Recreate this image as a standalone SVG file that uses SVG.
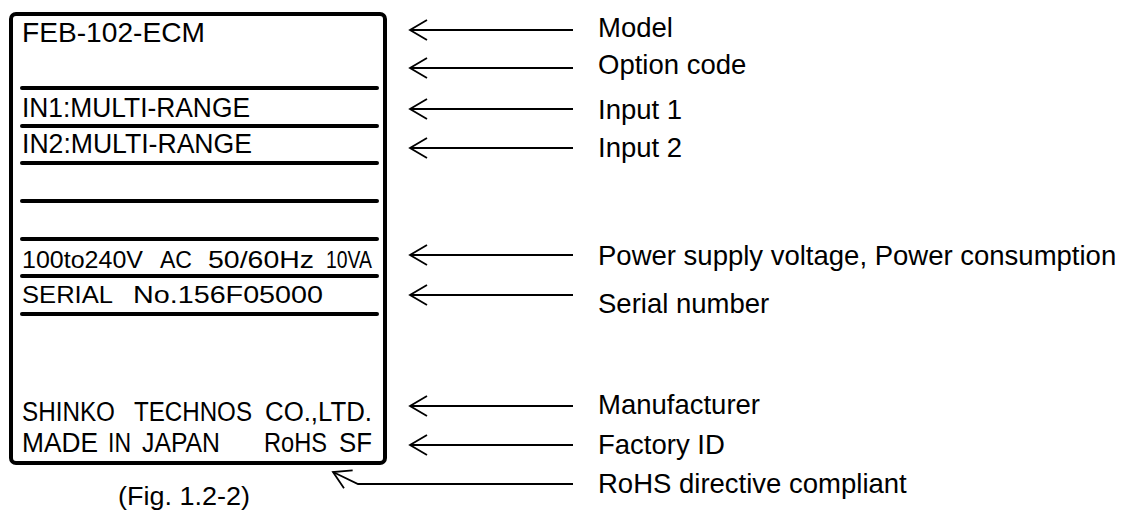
<svg xmlns="http://www.w3.org/2000/svg" width="1128" height="513" viewBox="0 0 1128 513">
<style>
  .plate { fill: #fff; stroke: #000; stroke-width: 4; }
  .rule { stroke: #000; stroke-width: 4; stroke-linecap: round; }
  .lt { font-family: "Liberation Sans", Arial, sans-serif; fill: #000; }
  .lbl { font-family: "Liberation Sans", Arial, sans-serif; font-size: 27.5px; fill: #000; }
  .conn { fill: none; stroke: #000; stroke-width: 1.8; marker-end: url(#open); }
</style>
<defs>
  <marker id="open" markerUnits="userSpaceOnUse" viewBox="-19 -12 21 24" markerWidth="21" markerHeight="24" refX="0" refY="0" orient="auto">
    <path d="M-17,-10 L0,0 L-17,10" fill="none" stroke="#000" stroke-width="1.8"/>
  </marker>
</defs>
<rect width="1128" height="513" fill="#fff"/>

<g id="nameplate">
  <rect class="plate" x="11" y="14" width="374" height="449" rx="5"/>
  <line class="rule" x1="22" y1="88" x2="377" y2="88"/>
  <line class="rule" x1="22" y1="126" x2="377" y2="126"/>
  <line class="rule" x1="22" y1="163" x2="377" y2="163"/>
  <line class="rule" x1="22" y1="201" x2="377" y2="201"/>
  <line class="rule" x1="22" y1="239" x2="377" y2="239"/>
  <line class="rule" x1="22" y1="276" x2="377" y2="276"/>
  <line class="rule" x1="22" y1="314" x2="377" y2="314"/>
  <text class="lt" x="22" y="42" font-size="28" textLength="183" lengthAdjust="spacingAndGlyphs">FEB-102-ECM</text>
  <text class="lt" x="22" y="117" font-size="27" textLength="228" lengthAdjust="spacingAndGlyphs">IN1:MULTI-RANGE</text>
  <text class="lt" x="22" y="153" font-size="27" textLength="230" lengthAdjust="spacingAndGlyphs">IN2:MULTI-RANGE</text>
  <text class="lt" x="22" y="268" font-size="24" textLength="121" lengthAdjust="spacingAndGlyphs">100to240V</text>
  <text class="lt" x="160" y="268" font-size="24" textLength="32" lengthAdjust="spacingAndGlyphs">AC</text>
  <text class="lt" x="208" y="268" font-size="24" textLength="106" lengthAdjust="spacingAndGlyphs">50/60Hz</text>
  <text class="lt" x="326" y="268" font-size="24" textLength="46" lengthAdjust="spacingAndGlyphs">10VA</text>
  <text class="lt" x="22" y="303" font-size="24" textLength="91" lengthAdjust="spacingAndGlyphs">SERIAL</text>
  <text class="lt" x="133" y="303" font-size="24" textLength="190" lengthAdjust="spacingAndGlyphs">No.156F05000</text>
  <text class="lt" x="22" y="421" font-size="27" textLength="93" lengthAdjust="spacingAndGlyphs">SHINKO</text>
  <text class="lt" x="134" y="421" font-size="27" textLength="118" lengthAdjust="spacingAndGlyphs">TECHNOS</text>
  <text class="lt" x="265" y="421" font-size="27" textLength="107" lengthAdjust="spacingAndGlyphs">CO.,LTD.</text>
  <text class="lt" x="22" y="452" font-size="27" textLength="76" lengthAdjust="spacingAndGlyphs">MADE</text>
  <text class="lt" x="108" y="452" font-size="27" textLength="23" lengthAdjust="spacingAndGlyphs">IN</text>
  <text class="lt" x="142" y="452" font-size="27" textLength="78" lengthAdjust="spacingAndGlyphs">JAPAN</text>
  <text class="lt" x="264" y="452" font-size="27" textLength="63" lengthAdjust="spacingAndGlyphs">RoHS</text>
  <text class="lt" x="339" y="452" font-size="27" textLength="33" lengthAdjust="spacingAndGlyphs">SF</text>
</g>

<g id="caption">
  <text class="lt" x="118" y="505" font-size="26" textLength="132" lengthAdjust="spacingAndGlyphs">(Fig. 1.2-2)</text>
</g>

<g id="connectors">
  <line class="conn" x1="573" y1="30" x2="410" y2="30"/>
  <line class="conn" x1="573" y1="68" x2="410" y2="68"/>
  <line class="conn" x1="573" y1="109" x2="410" y2="109"/>
  <line class="conn" x1="573" y1="148" x2="410" y2="148"/>
  <line class="conn" x1="573" y1="255" x2="410" y2="255"/>
  <line class="conn" x1="573" y1="295" x2="410" y2="295"/>
  <line class="conn" x1="573" y1="406" x2="410" y2="406"/>
  <line class="conn" x1="573" y1="445" x2="410" y2="445"/>
  <polyline class="conn" points="573,484 358,484 333,472"/>
</g>

<g id="label-model"><text class="lbl" x="598" y="37">Model</text></g>
<g id="label-option"><text class="lbl" x="598" y="74">Option code</text></g>
<g id="label-input1"><text class="lbl" x="598" y="119">Input 1</text></g>
<g id="label-input2"><text class="lbl" x="598" y="157">Input 2</text></g>
<g id="label-power"><text class="lbl" x="598" y="265">Power supply voltage, Power consumption</text></g>
<g id="label-serial"><text class="lbl" x="598" y="313">Serial number</text></g>
<g id="label-manufacturer"><text class="lbl" x="598" y="414">Manufacturer</text></g>
<g id="label-factory"><text class="lbl" x="598" y="454">Factory ID</text></g>
<g id="label-rohs"><text class="lbl" x="598" y="493">RoHS directive compliant</text></g>
</svg>
